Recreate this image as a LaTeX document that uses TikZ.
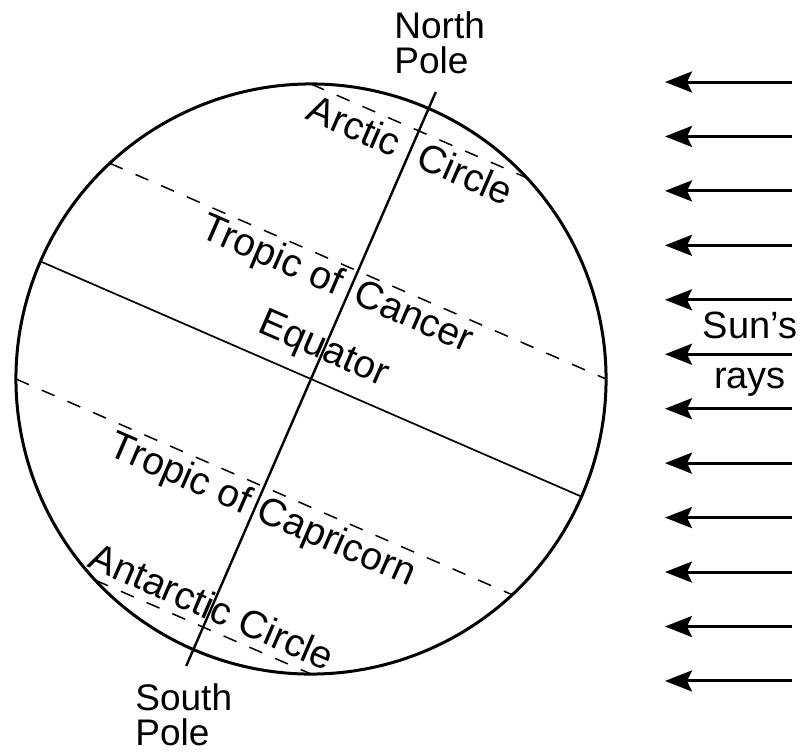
\documentclass[tikz,border=0pt]{standalone}
\usepackage{fontspec}
\setmainfont{Liberation Sans}
\usepackage{tikz}
\usetikzlibrary{arrows.meta}
\tikzset{
    lat/.style={line width=0.75pt, dash pattern=on 7pt off 7pt},
    ray/.style={line width=1.5pt, -{Stealth[length=13.5pt, width=10.5pt, inset=2.5pt]}},
    lbl/.style={font=\fontsize{18.5}{17.5}\selectfont, inner sep=0pt},
    globelbl/.style={font=\fontsize{19.5}{20}\selectfont, inner sep=0pt, rotate=-23.5},
}

\begin{document}
\begin{tikzpicture}[x=0.5pt,y=0.5pt]
    \useasboundingbox (0,0) rectangle (802,752);
    \begin{scope}[shift={(311,373)},rotate=-23.5]
        \draw[line width=1.5pt] (0,0) circle (295);
        \coordinate (np) at (0,313);
        \coordinate (sp) at (0,-313);
        \draw[line width=1.2pt] (sp) -- (np);
        \draw[line width=0.85pt] (-295,0) -- (295,0);
        \foreach \lat in {66.5,23.5,-23.5,-66.5}
            \draw[lat] ({-295*cos(\lat)},{295*sin(\lat)}) -- ({295*cos(\lat)},{295*sin(\lat)});

        \node[globelbl] (arctic) at (0,250) {Arctic\hspace{0.3em} Circle};
        \node[globelbl] (cancer) at (-14,96) {Tropic of\hspace{0.15em} Cancer};
        \node[globelbl] (equator) at (0,31) {Equator};
        \node[globelbl] (capricorn) at (8,-141) {Tropic of Capricorn};
        \node[globelbl] (antarctic) at (0,-248) {Antarctic Circle};
    \end{scope}

    \node[lbl,align=left,anchor=north west] (north) at (394,741) {North\\Pole};
    \node[lbl,align=left,anchor=north west] (south) at (135,69) {South\\Pole};

    \foreach \i in {0,...,11}
        \draw[ray] (792,{670-\i*54.45}) -- (665,{670-\i*54.45});
    \node[lbl,align=center,anchor=north,font=\fontsize{19}{25}\selectfont] (sun) at (750,440) {Sun’s\\rays};
\end{tikzpicture}
\end{document}
